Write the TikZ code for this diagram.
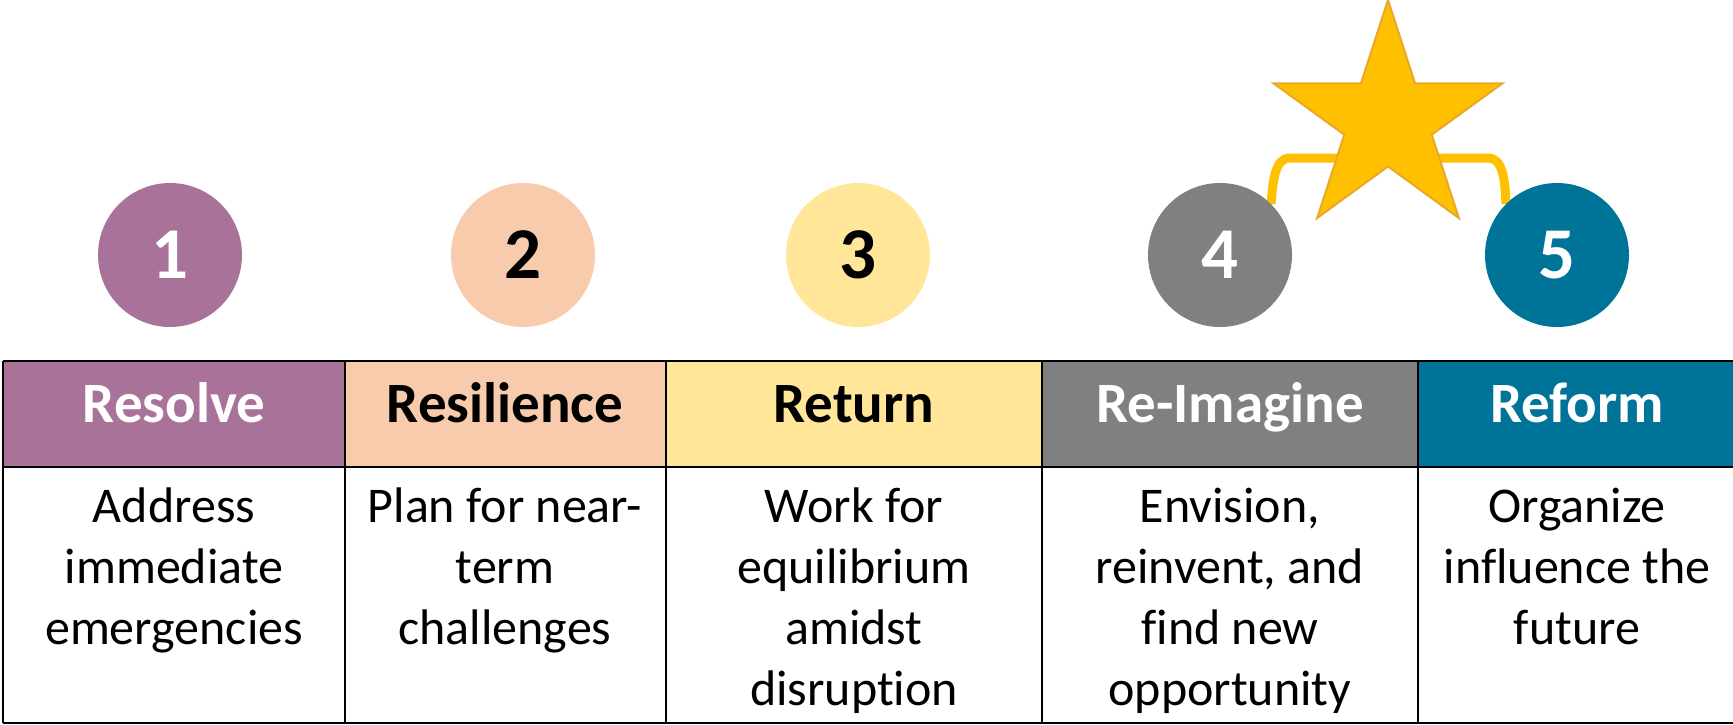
\documentclass[tikz,border=0pt]{standalone}
\usepackage{fontspec}
\setmainfont{Carlito}[Ligatures=NoCommon]
\definecolor{cA}{RGB}{169,115,153}
\definecolor{cB}{RGB}{248,203,173}
\definecolor{cC}{RGB}{255,230,153}
\definecolor{cD}{RGB}{128,128,128}
\definecolor{cE}{RGB}{0,116,152}
\definecolor{starfill}{RGB}{255,192,0}
\definecolor{starline}{RGB}{232,168,40}
\pgfdeclarelayer{behind}
\pgfsetlayers{behind,main}
\begin{document}
\begin{tikzpicture}[x=1pt,y=-1pt,
  numc/.style={circle,minimum size=144pt,inner sep=0pt,font=\fontsize{73}{80}\selectfont\bfseries},
  hdrtext/.style={anchor=base,inner sep=0pt,font=\fontsize{57}{64}\selectfont\bfseries},
  bodytext/.style={anchor=base,inner sep=0pt,align=center,font=\fontsize{50}{61}\selectfont},
  gridline/.style={line width=2.5pt,black},
  bracket/.style={line width=9pt,starfill}]
\useasboundingbox (0,0) rectangle (1733,725);
% header fills
\fill[cA] (3,361) rectangle (345,467);
\fill[cB] (345,361) rectangle (666,467);
\fill[cC] (666,361) rectangle (1042,467);
\fill[cD] (1042,361) rectangle (1418,467);
\fill[cE] (1418,361) rectangle (1740,467);
% grid
\draw[gridline] (3,361) -- (1740,361);
\draw[gridline] (3,467) -- (1740,467);
\draw[gridline] (3,723) -- (1740,723);
\draw[gridline] (3,361) -- (3,723);
\draw[gridline] (345,361) -- (345,723);
\draw[gridline] (666,361) -- (666,723);
\draw[gridline] (1042,361) -- (1042,723);
\draw[gridline] (1418,361) -- (1418,723);
% header texts
\node[hdrtext,white] (h1) at (174,422) {Resolve};
\node[hdrtext,black] (h2) at (505,422) {Resilience};
\node[hdrtext,black] (h3) at (854,422) {Return};
\node[hdrtext,white] (h4) at (1230,422) {Re-Imagine};
\node[hdrtext,white] (h5) at (1577,422) {Reform};
% body texts (anchor=base is the last line's baseline)
\node[bodytext] (b1) at (174,644) {Address\\immediate\\emergencies};
\node[bodytext] (b2) at (505,644) {Plan for near-\\term\\challenges};
\node[bodytext] (b3) at (854,705) {Work for\\equilibrium\\amidst\\disruption};
\node[bodytext] (b4) at (1230,705) {Envision,\\reinvent, and\\find new\\opportunity};
\node[bodytext] (b5) at (1577,644) {Organize\\influence the\\future};
% circles
\node[numc,fill=cA,text=white] (n1) at (170,255) {1};
\node[numc,fill=cB,text=black] (n2) at (523,255) {2};
\node[numc,fill=cC,text=black] (n3) at (858,255) {3};
\node[numc,fill=cD,text=white] (n4) at (1220,255) {4};
\node[numc,fill=cE,text=white] (n5) at (1557,255) {5};
% bracket connector
\begin{pgfonlayer}{behind}
\draw[bracket] (n4.45) .. controls (1273,180) and (1275,158) .. (1290,158) -- (1488,158) .. controls (1503,158) and (1505,180) .. (n5.135);
\end{pgfonlayer}
% star
\begin{scope}[shift={(1388,120.5)}]
\draw[fill=starfill,draw=starline,line width=2pt,line join=miter]
  (-90:120.5) -- (-54:46) -- (-18:120.5) -- (18:46) -- (54:120.5) -- (90:46)
  -- (126:120.5) -- (162:46) -- (198:120.5) -- (234:46) -- cycle;
\end{scope}
\end{tikzpicture}
\end{document}
